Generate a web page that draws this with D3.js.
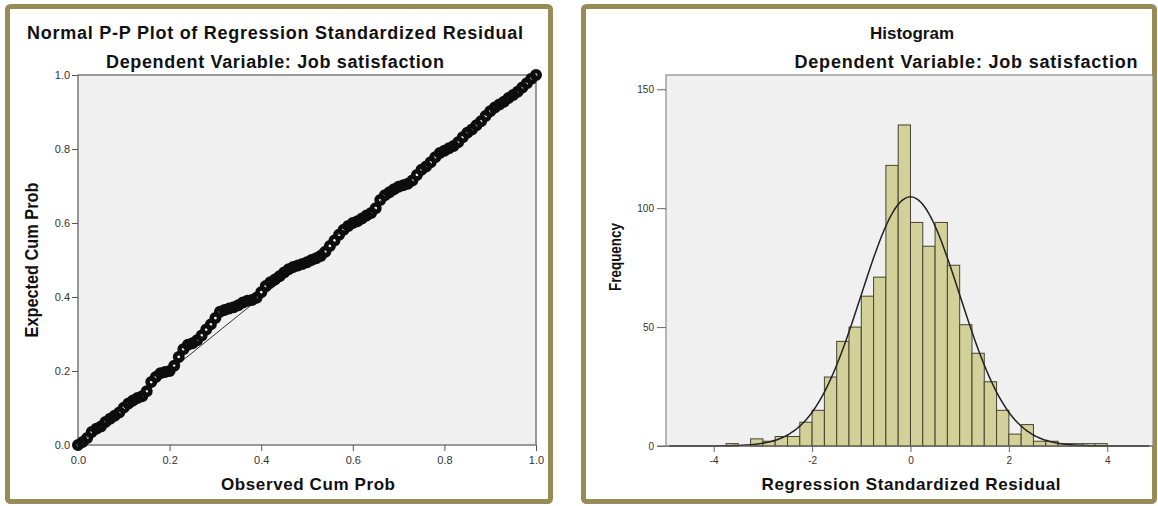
<!DOCTYPE html>
<html>
  <head>
    <meta charset="utf-8">
    <title>Regression residual diagnostics</title>
    <style>
      body { margin: 0; background: #fff; }
      svg { display: block; }
      text { font-family: "Liberation Sans", Arial, sans-serif; }
      .title { font-weight: bold; fill: #111; }
      .tick text { fill: #333; }
    </style>
  </head>

  <body>
    <div class="chart-area"></div>

    <script src="https://d3js.org/d3.v7.min.js"></script>
    <script>
        // P-P plot values (observed vs expected cum prob)
        var ppObserved = [0.00, 0.01, 0.02, 0.03, 0.04, 0.05, 0.06, 0.07, 0.08, 0.09,
                          0.10, 0.11, 0.12, 0.13, 0.14, 0.15, 0.16, 0.17, 0.18, 0.19,
                          0.20, 0.21, 0.22, 0.23, 0.24, 0.25, 0.26, 0.27, 0.28, 0.29,
                          0.30, 0.31, 0.32, 0.33, 0.34, 0.35, 0.36, 0.37, 0.38, 0.39,
                          0.40, 0.41, 0.42, 0.43, 0.44, 0.45, 0.46, 0.47, 0.48, 0.49,
                          0.50, 0.51, 0.52, 0.53, 0.54, 0.55, 0.56, 0.57, 0.58, 0.59,
                          0.60, 0.61, 0.62, 0.63, 0.64, 0.65, 0.66, 0.67, 0.68, 0.69,
                          0.70, 0.71, 0.72, 0.73, 0.74, 0.75, 0.76, 0.77, 0.78, 0.79,
                          0.80, 0.81, 0.82, 0.83, 0.84, 0.85, 0.86, 0.87, 0.88, 0.89,
                          0.90, 0.91, 0.92, 0.93, 0.94, 0.95, 0.96, 0.97, 0.98, 0.99, 1.00]
        var ppExpected = [0.000, 0.008, 0.019, 0.035, 0.044, 0.050, 0.062, 0.071, 0.079, 0.088,
                          0.101, 0.112, 0.120, 0.127, 0.132, 0.145, 0.170, 0.184, 0.194, 0.197,
                          0.200, 0.214, 0.238, 0.259, 0.271, 0.275, 0.283, 0.296, 0.312, 0.326,
                          0.343, 0.360, 0.365, 0.369, 0.372, 0.378, 0.385, 0.390, 0.392, 0.398,
                          0.413, 0.430, 0.440, 0.447, 0.456, 0.466, 0.475, 0.481, 0.485, 0.489,
                          0.494, 0.500, 0.505, 0.511, 0.522, 0.538, 0.553, 0.568, 0.582, 0.592,
                          0.600, 0.605, 0.612, 0.620, 0.627, 0.640, 0.662, 0.675, 0.683, 0.691,
                          0.698, 0.702, 0.706, 0.715, 0.730, 0.744, 0.753, 0.764, 0.778, 0.789,
                          0.795, 0.802, 0.808, 0.818, 0.832, 0.844, 0.853, 0.864, 0.875, 0.889,
                          0.902, 0.912, 0.920, 0.928, 0.938, 0.946, 0.955, 0.966, 0.978, 0.990, 1.000]
        var probTicks = [0, 0.2, 0.4, 0.6, 0.8, 1.0]

        // histogram bins (left edge, width 0.25) and frequencies
        var binLeft = [-3.75, -3.5, -3.25, -3.0, -2.75, -2.5, -2.25, -2.0, -1.75, -1.5,
                       -1.25, -1.0, -0.75, -0.5, -0.25, 0.0, 0.25, 0.5, 0.75, 1.0,
                       1.25, 1.5, 1.75, 2.0, 2.25, 2.5, 2.75, 3.0, 3.25, 3.5, 3.75]
        var binCount = [1, 0, 3, 2, 4, 4, 10, 15, 29, 44,
                        50, 63, 71, 118, 135, 94, 84, 94, 76, 51,
                        39, 27, 15, 5, 9, 2, 2, 1, 1, 1, 1]
        var binWidth = 0.25
        var freqTicks = [0, 50, 100, 150]
        var residTicks = [-4, -2, 0, 2, 4]

        // fitted normal curve parameters
        var residMean = 0.0, residSd = 1.0, residN = 1051

        var svg = d3.select(".chart-area")
            .append("svg")
                .attr("width", 1158)
                .attr("height", 506)

        // olive frames round the two panels
        svg.append("rect")
            .attr("x", 7.5).attr("y", 6.5).attr("width", 543).attr("height", 495)
            .attr("rx", 3).attr("fill", "#fff")
            .attr("stroke", "#978b58").attr("stroke-width", 5)
        svg.append("rect")
            .attr("x", 583.5).attr("y", 6.5).attr("width", 571).attr("height", 495)
            .attr("rx", 3).attr("fill", "#fff")
            .attr("stroke", "#978b58").attr("stroke-width", 5)

        // ---------- left: P-P plot ----------
        var x = d3.scaleLinear().domain([0, 1]).range([78, 536])
        var y = d3.scaleLinear().domain([0, 1]).range([445, 75])

        svg.append("rect")
            .attr("x", x(0)).attr("y", y(1))
            .attr("width", x(1) - x(0)).attr("height", y(0) - y(1))
            .attr("fill", "#f0f0f0").attr("stroke", "#7a7a7a").attr("stroke-width", 1.5)

        svg.append("g")
            .attr("transform", "translate(0," + y(0) + ")")
            .call(d3.axisBottom(x).tickValues(probTicks).tickFormat(d3.format(".1f")).tickSize(6).tickSizeOuter(0))
            .call(g => g.select(".domain").remove())
            .call(g => g.selectAll("line").attr("stroke", "#555"))
            .call(g => g.selectAll("text").attr("font-size", 11).attr("dy", "0.9em"))
        svg.append("g")
            .attr("transform", "translate(" + x(0) + ",0)")
            .call(d3.axisLeft(y).tickValues(probTicks).tickFormat(d3.format(".1f")).tickSize(6).tickSizeOuter(0))
            .call(g => g.select(".domain").remove())
            .call(g => g.selectAll("line").attr("stroke", "#555"))
            .call(g => g.selectAll("text").attr("font-size", 11).attr("dx", "0.1em"))

        // reference diagonal
        svg.append("line")
            .attr("x1", x(0)).attr("y1", y(0))
            .attr("x2", x(1)).attr("y2", y(1))
            .attr("stroke", "#333").attr("stroke-width", 1)

        // thick hollow markers, overlapping into a band
        svg.append("g")
            .selectAll("circle")
            .data(ppObserved)
            .enter().append("circle")
                .attr("cx", d => x(d))
                .attr("cy", (d, i) => y(ppExpected[i]))
                .attr("r", 3.7)
                .attr("fill", "none")
                .attr("stroke", "#0d0d0d")
                .attr("stroke-width", 4.6)

        svg.append("text").attr("class", "title")
            .attr("x", 275).attr("y", 39).attr("text-anchor", "middle")
            .attr("font-size", 18).attr("textLength", 496).attr("lengthAdjust", "spacing")
            .text("Normal P-P Plot of Regression Standardized Residual")
        svg.append("text").attr("class", "title")
            .attr("x", 275).attr("y", 68).attr("text-anchor", "middle")
            .attr("font-size", 18).attr("textLength", 338).attr("lengthAdjust", "spacing")
            .text("Dependent Variable: Job satisfaction")
        svg.append("text").attr("class", "title")
            .attr("x", 308).attr("y", 490).attr("text-anchor", "middle")
            .attr("font-size", 17).attr("textLength", 174).attr("lengthAdjust", "spacing")
            .text("Observed Cum Prob")
        svg.append("text").attr("class", "title")
            .attr("transform", "translate(38,260) rotate(-90)")
            .attr("text-anchor", "middle")
            .attr("font-size", 18).attr("textLength", 155).attr("lengthAdjust", "spacingAndGlyphs")
            .text("Expected Cum Prob")

        // ---------- right: histogram ----------
        var xr = d3.scaleLinear().domain([-4.97, 4.93]).range([666, 1153])
        var yr = d3.scaleLinear().domain([0, 156]).range([446, 75])

        svg.append("rect")
            .attr("x", xr.range()[0]).attr("y", yr(156))
            .attr("width", xr.range()[1] - xr.range()[0]).attr("height", yr(0) - yr(156))
            .attr("fill", "#f0f0f0").attr("stroke", "#8a8a8a").attr("stroke-width", 1.2)

        svg.append("g")
            .selectAll("rect")
            .data(binCount)
            .enter().append("rect")
                .attr("x", (d, i) => xr(binLeft[i]))
                .attr("y", d => yr(d))
                .attr("width", (d, i) => xr(binLeft[i] + binWidth) - xr(binLeft[i]))
                .attr("height", d => yr(0) - yr(d))
                .attr("fill", "#d4d09a")
                .attr("stroke", "#45432f")
                .attr("stroke-width", 1)

        // normal curve scaled to counts
        var curveX = d3.range(-4.9, 4.9, 0.05)
        var line = d3.line()
            .x(d => xr(d))
            .y(d => yr(residN * binWidth / (residSd * Math.sqrt(2 * Math.PI)) *
                       Math.exp(-0.5 * Math.pow((d - residMean) / residSd, 2))))
            .curve(d3.curveBasis)
        svg.append("path")
            .datum(curveX)
            .attr("d", line)
            .attr("fill", "none")
            .attr("stroke", "#222")
            .attr("stroke-width", 1.5)

        svg.append("g")
            .attr("transform", "translate(0," + yr(0) + ")")
            .call(d3.axisBottom(xr).tickValues(residTicks).tickFormat(d => String(d)).tickSize(6).tickSizeOuter(0))
            .call(g => g.select(".domain").attr("stroke", "#666").attr("d", "M657,0H1153"))
            .call(g => g.selectAll("line").attr("stroke", "#666"))
            .call(g => g.selectAll("text").attr("font-size", 10).attr("fill", "#666").attr("dy", "0.9em"))
        svg.append("g")
            .attr("transform", "translate(" + xr.range()[0] + ",0)")
            .call(d3.axisLeft(yr).tickValues(freqTicks).tickSize(9).tickSizeOuter(0))
            .call(g => g.select(".domain").remove())
            .call(g => g.selectAll("line").attr("stroke", "#666"))
            .call(g => g.selectAll("text").attr("font-size", 10).attr("fill", "#777"))

        svg.append("text").attr("class", "title")
            .attr("x", 912).attr("y", 39).attr("text-anchor", "middle")
            .attr("font-size", 17)
            .text("Histogram")
        svg.append("text").attr("class", "title")
            .attr("x", 966).attr("y", 68).attr("text-anchor", "middle")
            .attr("font-size", 18).attr("textLength", 343).attr("lengthAdjust", "spacing")
            .text("Dependent Variable: Job satisfaction")
        svg.append("text").attr("class", "title")
            .attr("x", 911).attr("y", 490).attr("text-anchor", "middle")
            .attr("font-size", 17).attr("textLength", 299).attr("lengthAdjust", "spacing")
            .text("Regression Standardized Residual")
        svg.append("text").attr("class", "title")
            .attr("transform", "translate(621,257) rotate(-90)")
            .attr("text-anchor", "middle")
            .attr("font-size", 16).attr("textLength", 68).attr("lengthAdjust", "spacingAndGlyphs")
            .text("Frequency")
    </script>
  </body>
</html>
